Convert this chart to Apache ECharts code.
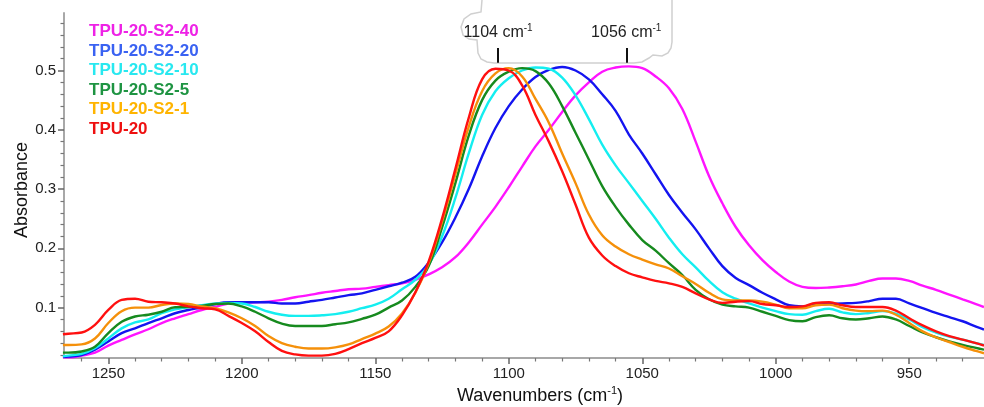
<!DOCTYPE html>
<html>
<head>
<meta charset="utf-8">
<script src="https://cdn.jsdelivr.net/npm/echarts@6/dist/echarts.min.js"></script>
<style>
html,body{margin:0;padding:0;background:#fff;}
#chart{width:984px;height:407px;}
</style>
</head>
<body>
<div id="chart"></div>
<script>
// ---- data ----
const wavenumbers = [
  1267,1265,1260,1255,1250,1245,1240,1235,1230,1225,
  1220,1215,1210,1205,1200,1195,1190,1185,1180,1175,
  1170,1165,1160,1155,1150,1145,1140,1135,1130,1125,
  1120,1115,1110,1105,1100,1095,1090,1085,1080,1075,
  1070,1065,1060,1055,1050,1045,1040,1035,1030,1025,
  1020,1015,1010,1005,1000,995,990,985,980,975,
  970,965,960,955,950,945,940,935,930,925,
  922
];
const seriesNames = ['TPU-20-S2-40','TPU-20-S2-20','TPU-20-S2-10','TPU-20-S2-5','TPU-20-S2-1','TPU-20'];

const tpu20_s2_40 = [
  0.016,0.016,0.019,0.024,0.036,0.0455,0.055,0.0635,0.074,0.082,
  0.089,0.096,0.101,0.107,0.108,0.109,0.110,0.113,0.1175,0.121,
  0.125,0.128,0.131,0.132,0.135,0.138,0.141,0.147,0.156,0.168,
  0.185,0.210,0.240,0.270,0.303,0.338,0.372,0.400,0.430,0.458,
  0.480,0.498,0.505,0.507,0.504,0.490,0.470,0.435,0.380,0.322,
  0.276,0.236,0.205,0.180,0.160,0.144,0.135,0.133,0.134,0.136,
  0.139,0.145,0.149,0.149,0.145,0.137,0.130,0.122,0.114,0.106,
  0.101
];
const tpu20_s2_20 = [
  0.017,0.0175,0.020,0.029,0.043,0.057,0.065,0.074,0.082,0.0905,
  0.096,0.1006,0.106,0.109,0.109,0.109,0.109,0.107,0.107,0.110,
  0.113,0.117,0.121,0.124,0.130,0.136,0.142,0.152,0.176,0.210,
  0.252,0.300,0.355,0.403,0.440,0.468,0.489,0.501,0.506,0.500,
  0.485,0.460,0.432,0.392,0.360,0.325,0.290,0.260,0.232,0.200,
  0.170,0.150,0.138,0.125,0.114,0.104,0.102,0.105,0.106,0.107,
  0.108,0.111,0.115,0.115,0.107,0.099,0.091,0.084,0.077,0.068,
  0.063
];
const tpu20_s2_10 = [
  0.018,0.019,0.022,0.0315,0.048,0.065,0.075,0.080,0.0905,0.097,
  0.101,0.104,0.107,0.108,0.107,0.101,0.093,0.088,0.086,0.086,
  0.087,0.089,0.093,0.099,0.105,0.115,0.131,0.147,0.172,0.220,
  0.285,0.360,0.425,0.465,0.487,0.500,0.505,0.503,0.488,0.458,
  0.418,0.375,0.340,0.310,0.280,0.250,0.218,0.190,0.168,0.145,
  0.126,0.115,0.107,0.100,0.094,0.089,0.088,0.094,0.098,0.092,
  0.089,0.091,0.094,0.090,0.080,0.067,0.058,0.051,0.046,0.040,
  0.037
];
const tpu20_s2_5 = [
  0.024,0.024,0.026,0.034,0.057,0.076,0.085,0.088,0.093,0.1006,
  0.101,0.103,0.106,0.107,0.102,0.093,0.082,0.073,0.069,0.069,
  0.069,0.072,0.075,0.081,0.088,0.100,0.112,0.135,0.170,0.235,
  0.310,0.390,0.450,0.483,0.498,0.504,0.499,0.478,0.440,0.395,
  0.350,0.305,0.270,0.240,0.214,0.196,0.175,0.155,0.130,0.114,
  0.105,0.102,0.100,0.093,0.086,0.079,0.077,0.084,0.087,0.082,
  0.080,0.082,0.085,0.080,0.069,0.058,0.050,0.043,0.037,0.032,
  0.029
];
const tpu20_s2_1 = [
  0.037,0.037,0.038,0.048,0.074,0.094,0.100,0.100,0.1045,0.107,
  0.106,0.102,0.099,0.092,0.082,0.069,0.052,0.040,0.034,0.031,
  0.031,0.033,0.038,0.047,0.056,0.068,0.090,0.125,0.175,0.245,
  0.325,0.405,0.465,0.495,0.504,0.490,0.452,0.412,0.360,0.310,
  0.257,0.222,0.203,0.190,0.181,0.173,0.166,0.153,0.140,0.125,
  0.114,0.112,0.112,0.110,0.105,0.099,0.099,0.104,0.105,0.099,
  0.095,0.094,0.095,0.088,0.074,0.060,0.050,0.042,0.034,0.027,
  0.023
];
const tpu20 = [
  0.055,0.056,0.058,0.071,0.096,0.113,0.115,0.110,0.109,0.107,
  0.102,0.099,0.097,0.086,0.074,0.060,0.042,0.027,0.021,0.019,
  0.019,0.022,0.030,0.040,0.049,0.060,0.087,0.126,0.178,0.250,
  0.334,0.420,0.485,0.503,0.500,0.475,0.425,0.380,0.330,0.274,
  0.218,0.188,0.170,0.158,0.151,0.145,0.141,0.135,0.124,0.114,
  0.108,0.110,0.111,0.106,0.104,0.101,0.102,0.108,0.109,0.104,
  0.101,0.101,0.101,0.095,0.082,0.070,0.060,0.052,0.046,0.040,
  0.036
];
const xMajorTicks = [1250,1200,1150,1100,1050,1000,950];
const xMinorTicks = [1260,1240,1230,1220,1210,1190,1180,1170,1160,1140,1130,1120,1110,1090,1080,1070,1060,1040,1030,1020,1010,990,980,970,960,940,930];
const yMajorTicks = [0.1,0.2,0.3,0.4,0.5];
const yMinorTicks = [0.02,0.04,0.06,0.08,0.12,0.14,0.16,0.18,0.22,0.24,0.26,0.28,0.32,0.34,0.36,0.38,0.42,0.44,0.46,0.48,0.52,0.54,0.56,0.58];
const peakMarks = [1104, 1056];

// ---- styling ----
const lineColors = ['#ff14ff','#1414f0','#14eef0','#168a1e','#f5900a','#ff1010'];
const legendColors = ['#ee22e6','#3a62f2','#28e8f0','#1e9442','#ffb400','#ee1010'];
const FONT = 'Liberation Sans, Arial, sans-serif';
const allSeries = [tpu20_s2_40, tpu20_s2_20, tpu20_s2_10, tpu20_s2_5, tpu20_s2_1, tpu20];

const chart = echarts.init(document.getElementById('chart'));
const X_MIN = 922, X_MAX = 1266.6, Y_MIN = 0.015, Y_MAX = 0.597;
const gridBox = {left: 64, right: 0, top: 13, bottom: 49};

const supRich = {
  a: {fontSize: 16, fontFamily: FONT, color: '#222', lineHeight: 19},
  s: {fontSize: 10, fontFamily: FONT, color: '#222', verticalAlign: 'top', lineHeight: 19}
};

const series = allSeries.map((vals, i) => ({
  name: seriesNames[i],
  type: 'line',
  xAxisIndex: 0, yAxisIndex: 0,
  data: wavenumbers.map((w, k) => [w, vals[k]]),
  showSymbol: false,
  smooth: 0.4,
  lineStyle: {color: lineColors[i], width: 2.4},
  itemStyle: {color: lineColors[i]},
  z: 2 + i,
  animation: false
}));
function peakMarkLine(w) {
  return {
    silent: true, symbol: ['none','none'], animation: false,
    lineStyle: {color: '#111', width: 2, type: 'solid'},
    label: {show: true, position: 'end', distance: 6,
      formatter: '{a|' + w + ' cm}{s|-1}', rich: supRich},
    data: [[{coord: [w, 0.513]}, {coord: [w, 0.538]}]]
  };
}
series[5].markLine = peakMarkLine(peakMarks[0]);
series[0].markLine = peakMarkLine(peakMarks[1]);

const cloudPts = [[482,0],[481,12],[471,14],[464,19],[461,27],[463,35],[469,39],[477,40],[478,53],[481,59],[487,62],[494,63],[634,63],[642,62],[649,58],[653,55],[662,56],[668,53],[671,48],[672,42],[672,0]];

const option = {
  backgroundColor: '#fff',
  animation: false,
  grid: [Object.assign({}, gridBox), Object.assign({}, gridBox)],
  legend: {
    orient: 'vertical', left: 79, top: 17,
    itemWidth: 0, itemHeight: 0, itemGap: 0, icon: 'circle',
    selectedMode: false,
    textStyle: {fontSize: 17, fontWeight: 'bold', fontFamily: FONT, lineHeight: 19.5},
    data: seriesNames.map((n, i) => ({name: n, textStyle: {color: legendColors[i]}}))
  },
  xAxis: [
    {type: 'value', gridIndex: 0, inverse: true, min: X_MIN, max: X_MAX,
     axisLine: {show: true, lineStyle: {color: '#a8a8a8', width: 2}},
     axisTick: {show: true, customValues: xMajorTicks, length: 6, lineStyle: {color: '#666', width: 1.5}},
     axisLabel: {customValues: xMajorTicks, fontSize: 15, color: '#222', fontFamily: FONT, margin: 8,
       formatter: v => String(v)},
     splitLine: {show: false}},
    {type: 'value', gridIndex: 1, inverse: true, min: X_MIN, max: X_MAX, position: 'bottom',
     axisLine: {show: false},
     axisTick: {show: true, customValues: xMinorTicks, length: 3.5, lineStyle: {color: '#777', width: 1.2}},
     axisLabel: {show: false}, splitLine: {show: false}}
  ],
  yAxis: [
    {type: 'value', gridIndex: 0, min: Y_MIN, max: Y_MAX,
     axisLine: {show: true, lineStyle: {color: '#a8a8a8', width: 2}},
     axisTick: {show: true, customValues: yMajorTicks, length: 6, lineStyle: {color: '#666', width: 1.5}},
     axisLabel: {customValues: yMajorTicks, fontSize: 15, color: '#222', fontFamily: FONT, margin: 8,
       formatter: v => v.toFixed(1)},
     splitLine: {show: false}},
    {type: 'value', gridIndex: 1, min: Y_MIN, max: Y_MAX, position: 'left',
     axisLine: {show: false},
     axisTick: {show: true, customValues: yMinorTicks, length: 3.5, lineStyle: {color: '#777', width: 1.2}},
     axisLabel: {show: false}, splitLine: {show: false}}
  ],
  graphic: [
    {type: 'polyline', silent: true, z: 0,
     shape: {points: cloudPts},
     style: {fill: 'none', stroke: '#d0d0d0', lineWidth: 1.5}},
    {type: 'text', silent: true,
     x: 540, y: 396,
     style: {text: '{a|Wavenumbers (cm}{s|-1}{a|)}', align: 'center', verticalAlign: 'middle',
       rich: {a: {fontSize: 18, fontFamily: FONT, fill: '#111', color: '#111', lineHeight: 22},
              s: {fontSize: 11, fontFamily: FONT, fill: '#111', color: '#111', verticalAlign: 'top', lineHeight: 22}}}},
    {type: 'text', silent: true, x: 22, y: 190, rotation: Math.PI / 2,
     style: {text: 'Absorbance', align: 'center', verticalAlign: 'middle', fontSize: 18, fontFamily: FONT, fill: '#111'}}
  ],
  series: series
};
chart.setOption(option);
</script>
</body>
</html>
